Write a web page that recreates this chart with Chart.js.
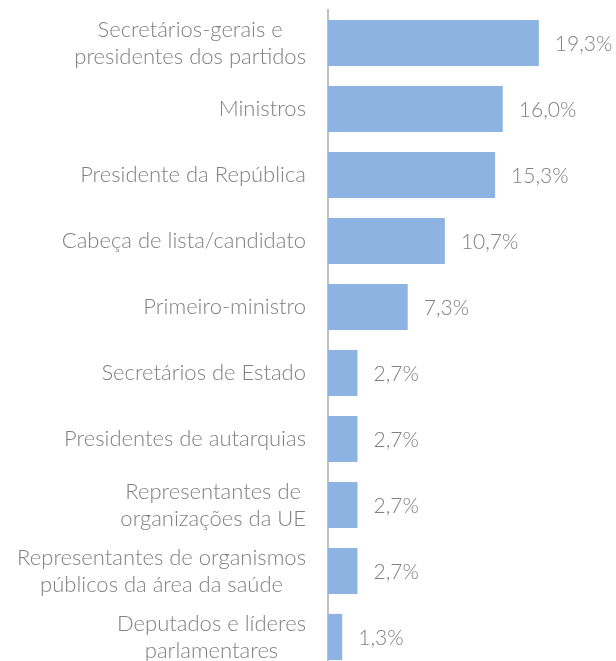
<!DOCTYPE html>
<html>
<head>
<meta charset="utf-8">
<script src="https://cdn.jsdelivr.net/npm/chart.js@4"></script>
<style>
  html, body { margin: 0; padding: 0; background: #fff; overflow: hidden; }
  #wrap { position: relative; width: 616px; height: 672px; }
</style>
</head>
<body>
<div id="wrap"><canvas id="chart" width="616" height="672"></canvas></div>
<script>
// Categorias (uma linha por elemento do array interior)
const categories = [
  ['Secretários-gerais e', 'presidentes dos partidos'],
  ['Ministros'],
  ['Presidente da República'],
  ['Cabeça de lista/candidato'],
  ['Primeiro-ministro'],
  ['Secretários de Estado'],
  ['Presidentes de autarquias'],
  ['Representantes de', 'organizações da UE'],
  ['Representantes de organismos', 'públicos da área da saúde'],
  ['Deputados e líderes', 'parlamentares']
];
const values = [19.3, 16.0, 15.3, 10.7, 7.3, 2.7, 2.7, 2.7, 2.7, 1.3];

const FONT = 'Lato';
const GREY = '#808080';
const LABEL_RIGHT = 306;
const LINE_H = 27;

// etiquetas das categorias: linhas centradas entre si, bloco alinhado à direita
const categoryLabels = {
  id: 'categoryLabels',
  afterDraw(chart) {
    const ctx = chart.ctx;
    const yScale = chart.scales.y;
    ctx.save();
    ctx.font = '300 22px ' + FONT;
    ctx.fillStyle = GREY;
    ctx.textAlign = 'center';
    ctx.textBaseline = 'middle';
    chart.data.labels.forEach((lines, i) => {
      const y = yScale.getPixelForTick(i);
      const w = Math.max(...lines.map(l => ctx.measureText(l).width));
      const cx = LABEL_RIGHT - w / 2;
      const y0 = y - (lines.length - 1) * LINE_H / 2;
      lines.forEach((l, j) => ctx.fillText(l, cx, y0 + j * LINE_H));
    });
    ctx.restore();
  }
};

// etiquetas com o valor à direita de cada barra
const valueLabels = {
  id: 'valueLabels',
  afterDatasetsDraw(chart) {
    const ctx = chart.ctx;
    const meta = chart.getDatasetMeta(0);
    ctx.save();
    ctx.font = '300 21px ' + FONT;
    ctx.fillStyle = GREY;
    ctx.textAlign = 'left';
    ctx.textBaseline = 'middle';
    meta.data.forEach((bar, i) => {
      const txt = values[i].toFixed(1).replace('.', ',') + '%';
      ctx.fillText(txt, bar.x + 16, bar.y + 1);
    });
    ctx.restore();
  }
};

new Chart(document.getElementById('chart'), {
  type: 'bar',
  data: {
    labels: categories,
    datasets: [{
      data: values,
      backgroundColor: '#8DB3E2',
      borderWidth: 0,
      barPercentage: 0.7,
      categoryPercentage: 1.0
    }]
  },
  options: {
    indexAxis: 'y',
    responsive: false,
    animation: false,
    layout: { padding: { top: 10, bottom: 2, right: 4, left: 0 } },
    plugins: {
      legend: { display: false },
      tooltip: { enabled: false }
    },
    scales: {
      x: {
        display: false,
        min: 0,
        max: 26
      },
      y: {
        afterFit(scale) {
          scale.width = 328;
          scale.paddingTop = 0;
          scale.paddingBottom = 0;
        },
        grid: { display: false, drawTicks: false },
        border: { display: true, color: '#BFBFBF', width: 2 },
        ticks: { display: false }
      }
    }
  },
  plugins: [categoryLabels, valueLabels]
});
</script>
</body>
</html>
